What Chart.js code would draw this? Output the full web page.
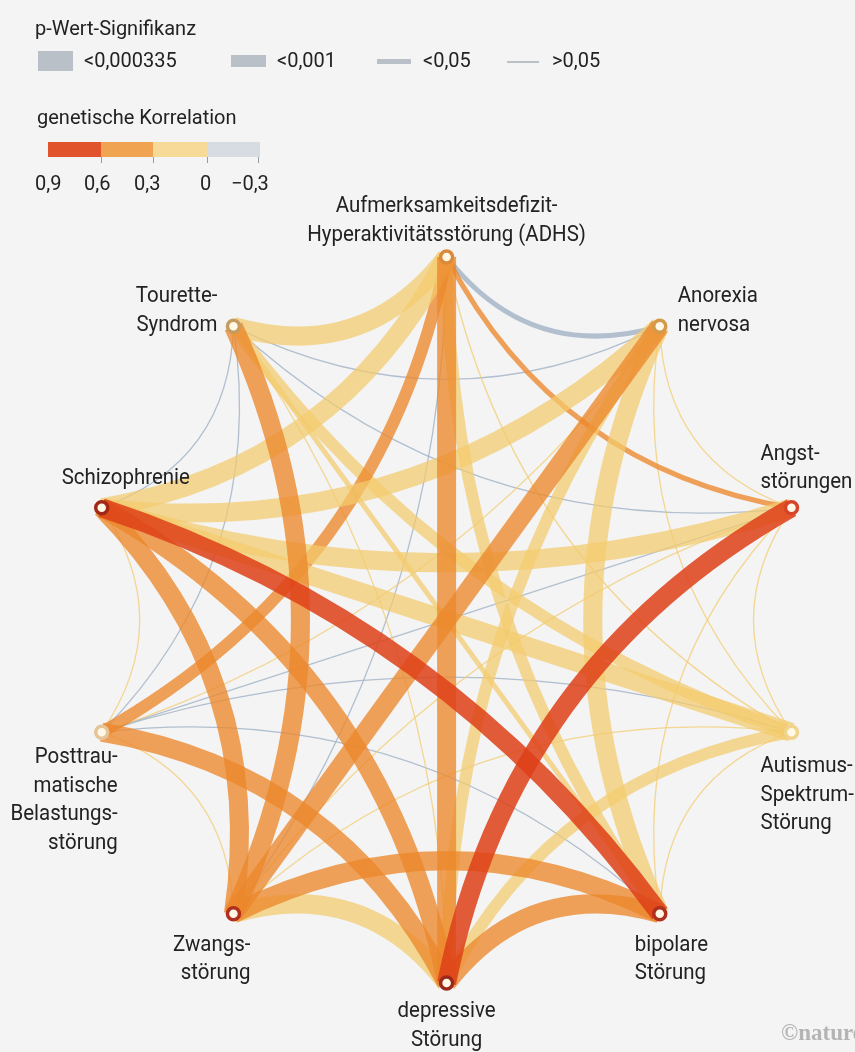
<!DOCTYPE html>
<html lang="de">
<head>
<meta charset="utf-8">
<script src="https://cdn.jsdelivr.net/npm/chart.js@4.4.1/dist/chart.umd.min.js"></script>
<style>
  html, body { margin: 0; padding: 0; background: #f4f4f4; }
  #wrap { position: relative; width: 855px; height: 1052px; overflow: hidden;
          font-family: Roboto, "Noto Sans", sans-serif; color: #222; }
  #myChart { position: absolute; left: 0; top: 0; }
  .lg { position: absolute; font-size: 20px; line-height: 1; white-space: nowrap; }
  .sw { position: absolute; background: #b9c0c8; }
  .bar { position: absolute; top: 142px; height: 15px; }
  .tk { position: absolute; top: 157px; width: 1px; height: 6px; background: #999; }
  .copy { position: absolute; left: 781px; top: 1020px; font: bold 23px "Liberation Serif", "DejaVu Serif", serif; color: #b4b4b4; white-space: nowrap; }
</style>
</head>
<body>
<div id="wrap">
  <canvas id="myChart" width="855" height="1052"></canvas>

  <div class="lg" style="left:35px;top:18px">p-Wert-Signifikanz</div>
  <div class="sw" style="left:38px;top:51px;width:35px;height:20px"></div>
  <div class="lg" style="left:84px;top:50px">&lt;0,000335</div>
  <div class="sw" style="left:231px;top:55px;width:35px;height:12px"></div>
  <div class="lg" style="left:277px;top:50px">&lt;0,001</div>
  <div class="sw" style="left:377px;top:59px;width:34px;height:5px"></div>
  <div class="lg" style="left:423px;top:50px">&lt;0,05</div>
  <div class="sw" style="left:507px;top:61px;width:32px;height:1.5px"></div>
  <div class="lg" style="left:552px;top:50px">&gt;0,05</div>

  <div class="lg" style="left:37px;top:107px">genetische Korrelation</div>
  <div class="bar" style="left:48px;width:53px;background:#e1532b"></div>
  <div class="bar" style="left:101px;width:52px;background:#f0a452"></div>
  <div class="bar" style="left:153px;width:54px;background:#f7da98"></div>
  <div class="bar" style="left:207px;width:53px;background:#d6dce2"></div>
  <div class="tk" style="left:101px"></div>
  <div class="tk" style="left:153px"></div>
  <div class="tk" style="left:207px"></div>
  <div class="tk" style="left:258px"></div>
  <div class="lg" style="left:35px;top:173px">0,9</div>
  <div class="lg" style="left:84px;top:173px">0,6</div>
  <div class="lg" style="left:134px;top:173px">0,3</div>
  <div class="lg" style="left:200px;top:173px">0</div>
  <div class="lg" style="left:231px;top:173px">&minus;0,3</div>

  <div class="copy">©nature</div>
</div>

<script>
// disorders, clockwise from the top
const disorders = [
  "ADHS", "Anorexia nervosa", "Angststörungen", "Autismus-Spektrum-Störung",
  "bipolare Störung", "depressive Störung", "Zwangsstörung",
  "Posttraumatische Belastungsstörung", "Schizophrenie", "Tourette-Syndrom"
];
const labelLines = [
  ["Aufmerksamkeitsdefizit-", "Hyperaktivitätsstörung (ADHS)"],
  ["Anorexia", "nervosa"],
  ["Angst-", "störungen"],
  ["Autismus-", "Spektrum-", "Störung"],
  ["bipolare", "Störung"],
  ["depressive", "Störung"],
  ["Zwangs-", "störung"],
  ["Posttrau-", "matische", "Belastungs-", "störung"],
  ["Schizophrenie"],
  ["Tourette-", "Syndrom"]
];
const nodeRing = ["#d98a3a", "#d49a4c", "#d6442a", "#f0d48c", "#b0301f",
                  "#9c2a1c", "#b0301f", "#e6c49a", "#a02818", "#c49c62"];

// pairs of disorders: genetic correlation and p-value
const linkSource = [0,0,0,0,0,0,0,0,0, 1,1,1,1,1,1,1,1, 2,2,2,2,2,2,2, 3,3,3,3,3,3, 4,4,4,4,4, 5,5,5,5, 6,6,6, 7,7, 8];
const linkTarget = [1,2,3,4,5,6,7,8,9, 2,3,4,5,6,7,8,9, 3,4,5,6,7,8,9, 4,5,6,7,8,9, 5,6,7,8,9, 6,7,8,9, 7,8,9, 8,9, 9];
const linkCorr = [-0.12, 0.32, 0.22, 0.22, 0.46, -0.05, 0.45, 0.15, 0.22,
                  0.15, 0.05, 0.2, 0.2, 0.52, 0.25, 0.22, -0.05,
                  0.1, 0.15, 0.8, 0.2, -0.1, 0.2, -0.08,
                  0.1, 0.25, 0.1, -0.1, 0.2, 0.15,
                  0.35, 0.33, -0.05, 0.68, 0.15,
                  0.2, 0.45, 0.35, 0.2,
                  0.1, 0.33, 0.41,
                  0.2, -0.1,
                  -0.05];
const linkP = [0.02, 0.01, 0.08, 0.0006, 1e-12, 0.5, 0.0008, 2e-5, 1e-4,
               0.2, 0.6, 1e-5, 5e-4, 1e-8, 0.1, 1e-9, 0.6,
               0.5, 0.12, 1e-15, 0.2, 0.3, 1e-4, 0.5,
               0.3, 5e-4, 0.4, 0.3, 1e-5, 5e-4,
               1e-10, 1e-6, 0.2, 1e-50, 0.02,
               1e-4, 3e-4, 1e-20, 0.1,
               0.5, 1e-7, 1e-5,
               0.3, 0.5,
               0.3];

// node positions on the unit circle
const nodePoints = disorders.map((d, i) => {
  const a = Math.PI / 2 - i * Math.PI / 5;
  return { x: Math.cos(a), y: Math.sin(a) };
});

function colorOf(r) {
  if (r >= 0.6) return "rgba(222,64,24,0.85)";
  if (r >= 0.3) return "rgba(236,136,44,0.78)";
  if (r >= 0) return "rgba(243,203,108,0.72)";
  return "rgba(160,178,198,0.8)";
}
function widthOf(p) {
  if (p < 0.000335) return 19;
  if (p < 0.001) return 12;
  if (p < 0.05) return 5;
  return 1.3;
}
// how far a link bends toward the centre, by steps between its nodes
const bowByStep = [0, 38, 53, 67, 55, 0];

const edgePlugin = {
  id: "edges",
  beforeDatasetsDraw(chart) {
    const { ctx, scales: { x, y } } = chart;
    const cx = x.getPixelForValue(0), cy = y.getPixelForValue(0);
    const order = linkSource.map((_, i) => i).sort((a, b) =>
      (widthOf(linkP[a]) - widthOf(linkP[b])) || (linkCorr[a] - linkCorr[b]));
    ctx.save();
    order.forEach(i => {
      const a = nodePoints[linkSource[i]], b = nodePoints[linkTarget[i]];
      const x1 = x.getPixelForValue(a.x), y1 = y.getPixelForValue(a.y);
      const x2 = x.getPixelForValue(b.x), y2 = y.getPixelForValue(b.y);
      let step = Math.abs(linkSource[i] - linkTarget[i]);
      if (step > 5) step = 10 - step;
      const mx = (x1 + x2) / 2, my = (y1 + y2) / 2;
      const dx = cx - mx, dy = cy - my, d = Math.hypot(dx, dy);
      const bow = bowByStep[step];
      ctx.beginPath();
      ctx.moveTo(x1, y1);
      if (d < 1 || bow === 0) ctx.lineTo(x2, y2);
      else ctx.quadraticCurveTo(mx + dx / d * bow * 2, my + dy / d * bow * 2, x2, y2);
      ctx.strokeStyle = colorOf(linkCorr[i]);
      ctx.lineWidth = widthOf(linkP[i]);
      ctx.stroke();
    });
    ctx.restore();
  }
};

// label placement relative to each node (px)
const labelAlign = ["center", "left", "left", "left", "left", "center", "right", "right", "left", "right"];
const labelDx = [0, 18, -31, -31, -25, 0, 17, 16, -40, -16];
const labelDy = [-45, -24, -48, 40, 37, 34, 37, 31, -24, -24];

const labelPlugin = {
  id: "labels",
  afterDatasetsDraw(chart) {
    const { ctx, scales: { x, y } } = chart;
    ctx.save();
    ctx.fillStyle = "#222";
    ctx.font = "22px Roboto";
    ctx.textBaseline = "alphabetic";
    labelLines.forEach((lines, i) => {
      const px = x.getPixelForValue(nodePoints[i].x) + labelDx[i];
      const py = y.getPixelForValue(nodePoints[i].y) + labelDy[i];
      lines.forEach((t, k) => {
        ctx.save();
        ctx.translate(px, py + k * 28.5);
        ctx.scale(0.93, 1);
        ctx.textAlign = labelAlign[i];
        ctx.fillText(t, 0, 0);
        ctx.restore();
      });
    });
    ctx.restore();
  }
};

const ctx = document.getElementById("myChart").getContext("2d");
new Chart(ctx, {
  type: "scatter",
  data: {
    datasets: [{
      data: nodePoints,
      clip: false,
      pointRadius: 6,
      pointBorderWidth: 3.5,
      pointBackgroundColor: "#fff8e6",
      pointBorderColor: nodeRing
    }]
  },
  options: {
    responsive: false,
    animation: false,
    layout: { padding: { left: 47.7, right: 8.7, top: 220.7, bottom: 32.7 } },
    scales: {
      x: { min: -1.1, max: 1.1, display: false },
      y: { min: -1.1, max: 1.1, display: false }
    },
    plugins: { legend: { display: false }, tooltip: { enabled: false } }
  },
  plugins: [edgePlugin, labelPlugin]
});
</script>
</body>
</html>
